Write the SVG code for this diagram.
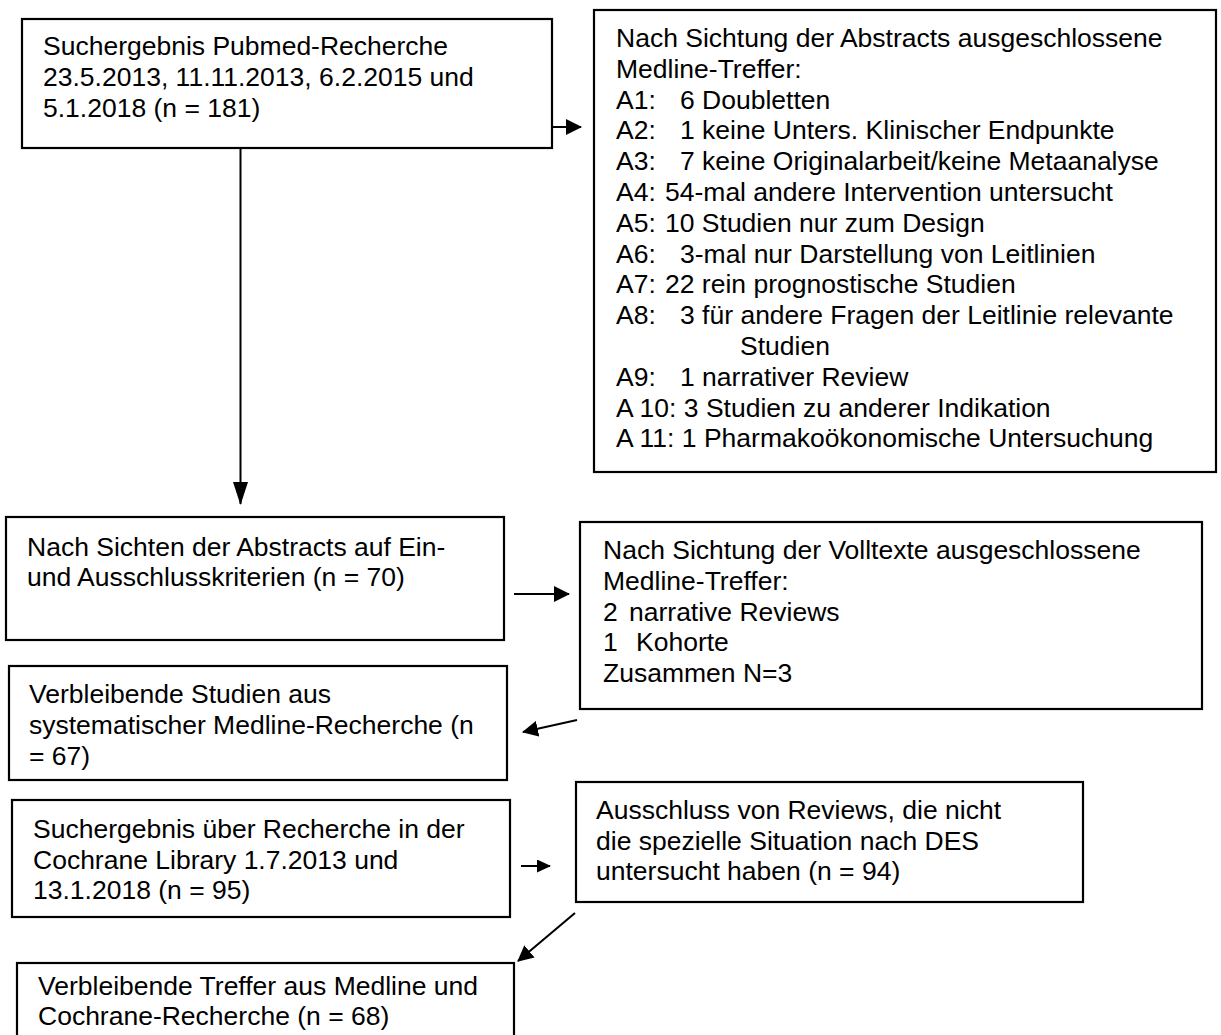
<svg xmlns="http://www.w3.org/2000/svg" width="1221" height="1035" viewBox="0 0 1221 1035">
<defs>
<marker id="ah" viewBox="0 0 16 16" refX="15" refY="8" markerWidth="16" markerHeight="16" markerUnits="userSpaceOnUse" orient="auto"><path d="M0,0 L16,8 L0,16 z" fill="#000"/></marker>
<marker id="ahS" viewBox="0 0 14 13" refX="13" refY="6.5" markerWidth="14" markerHeight="13" markerUnits="userSpaceOnUse" orient="auto"><path d="M0,0 L14,6.5 L0,13 z" fill="#000"/></marker>
<marker id="ahL" viewBox="0 0 23 15" refX="22" refY="7.5" markerWidth="23" markerHeight="15" markerUnits="userSpaceOnUse" orient="auto"><path d="M0,0 L23,7.5 L0,15 z" fill="#000"/></marker>
</defs>
<style>
rect.box{fill:#fff;stroke:#000;stroke-width:2.2}
text{font-family:"Liberation Sans",Arial,sans-serif;font-size:26.5px;fill:#000}
.c{stroke:#000;stroke-width:2;fill:none}
</style>
<rect width="1221" height="1035" fill="#fff"/>
<g id="n1"><rect class="box" x="22" y="19" width="530" height="129"/>
<text x="43" y="55">Suchergebnis Pubmed-Recherche</text>
<text x="43" y="86">23.5.2013, 11.11.2013, 6.2.2015 und</text>
<text x="43" y="117">5.1.2018 (n = 181)</text></g>
<g id="n2"><rect class="box" x="594" y="10" width="622" height="462"/>
<text x="616" y="47">Nach Sichtung der Abstracts ausgeschlossene</text>
<text x="616" y="78">Medline-Treffer:</text>
<text x="616" y="109">A1:</text><text x="680" y="109">6 Doubletten</text>
<text x="616" y="139">A2:</text><text x="680" y="139">1 keine Unters. Klinischer Endpunkte</text>
<text x="616" y="170">A3:</text><text x="680" y="170">7 keine Originalarbeit/keine Metaanalyse</text>
<text x="616" y="201">A4:</text><text x="665" y="201">54-mal andere Intervention untersucht</text>
<text x="616" y="232">A5:</text><text x="665" y="232">10 Studien nur zum Design</text>
<text x="616" y="263">A6:</text><text x="680" y="263">3-mal nur Darstellung von Leitlinien</text>
<text x="616" y="293">A7:</text><text x="665" y="293">22 rein prognostische Studien</text>
<text x="616" y="324">A8:</text><text x="680" y="324">3 für andere Fragen der Leitlinie relevante</text>
<text x="740" y="355">Studien</text>
<text x="616" y="386">A9:</text><text x="680" y="386">1 narrativer Review</text>
<text x="616" y="417">A 10: 3 Studien zu anderer Indikation</text>
<text x="616" y="447">A 11: 1 Pharmakoökonomische Untersuchung</text></g>
<g id="n3"><rect class="box" x="6" y="517" width="498" height="123"/>
<text x="27" y="556">Nach Sichten der Abstracts auf Ein-</text>
<text x="27" y="586">und Ausschlusskriterien (n = 70)</text></g>
<g id="n4"><rect class="box" x="580" y="522" width="622" height="187"/>
<text x="603" y="559">Nach Sichtung der Volltexte ausgeschlossene</text>
<text x="603" y="590">Medline-Treffer:</text>
<text x="603" y="621">2</text><text x="629" y="621">narrative Reviews</text>
<text x="603" y="651">1</text><text x="636" y="651">Kohorte</text>
<text x="603" y="682">Zusammen N=3</text></g>
<g id="n5"><rect class="box" x="9" y="666" width="498" height="114"/>
<text x="29" y="703">Verbleibende Studien aus</text>
<text x="29" y="734">systematischer Medline-Recherche (n</text>
<text x="29" y="765">= 67)</text></g>
<g id="n6"><rect class="box" x="12" y="800" width="498" height="117"/>
<text x="33" y="838">Suchergebnis über Recherche in der</text>
<text x="33" y="869">Cochrane Library 1.7.2013 und</text>
<text x="33" y="899">13.1.2018 (n = 95)</text></g>
<g id="n7"><rect class="box" x="576" y="782" width="507" height="120"/>
<text x="596" y="819">Ausschluss von Reviews, die nicht</text>
<text x="596" y="850">die spezielle Situation nach DES</text>
<text x="596" y="880">untersucht haben (n = 94)</text></g>
<g id="n8"><rect class="box" x="17" y="963" width="497" height="90"/>
<text x="38" y="995">Verbleibende Treffer aus Medline und</text>
<text x="38" y="1025">Cochrane-Recherche (n = 68)</text></g>
<g id="connectors">
<line class="c" x1="553" y1="127" x2="581" y2="127" marker-end="url(#ah)"/>
<line class="c" x1="240.5" y1="148" x2="240.5" y2="504" marker-end="url(#ahL)"/>
<line class="c" x1="514" y1="594" x2="569" y2="594" marker-end="url(#ah)"/>
<line class="c" x1="577" y1="720" x2="523" y2="732" marker-end="url(#ah)"/>
<line class="c" x1="521" y1="866" x2="550" y2="866" marker-end="url(#ahS)"/>
<line class="c" x1="575" y1="913" x2="518" y2="961" marker-end="url(#ah)"/>
</g>
</svg>
